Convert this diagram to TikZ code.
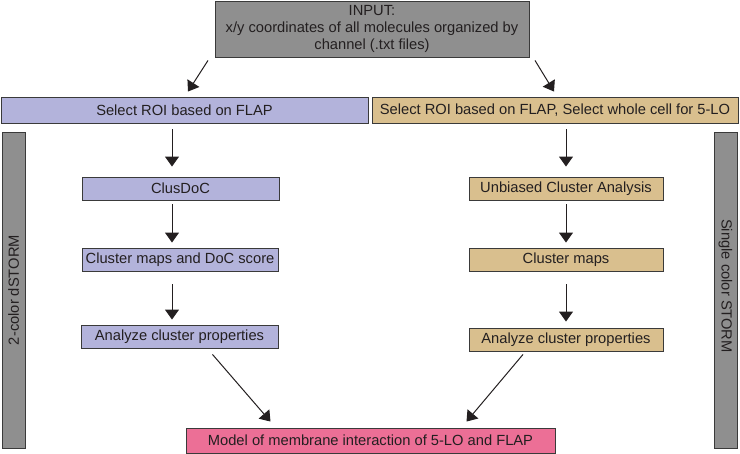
\documentclass[tikz,border=0pt]{standalone}
\usepackage{fontspec}
\setmainfont{Liberation Sans}
\usetikzlibrary{arrows.meta}
\definecolor{boxgray}{HTML}{8F8F8F}
\definecolor{lav}{HTML}{B3B3DB}
\definecolor{tan}{HTML}{D9BF8E}
\definecolor{pink}{HTML}{EC6F96}
\definecolor{edge}{HTML}{3A3A3A}
\definecolor{txt}{HTML}{231F20}
\begin{document}
\begin{tikzpicture}[x=1pt,y=-1pt,
  every node/.style={font=\fontsize{14.7}{17}\selectfont, text=txt, inner sep=0pt, draw=edge, line width=0.9pt},
  graybox/.style={fill=boxgray},
  lavbox/.style={fill=lav},
  tanbox/.style={fill=tan},
  pinkbox/.style={fill=pink},
  arr/.style={-{Triangle[width=14pt,length=10pt]}, line width=1pt, draw=txt}]
\useasboundingbox (0,0) rectangle (740,454);
\node[graybox, minimum width=314pt, minimum height=56pt, align=center] (input) at (372,29)
  {INPUT:\\x/y coordinates of all molecules organized by\\channel (.txt files)};
\node[lavbox, minimum width=367pt, minimum height=26pt] (roil) at (184.5,110) {Select ROI based on FLAP};
\node[tanbox, minimum width=366pt, minimum height=26pt] (roir) at (555,110) {Select ROI based on FLAP, Select whole cell for 5-LO};
\node[graybox, minimum width=23pt, minimum height=316pt] (barl) at (13.5,290) {};
\node[draw=none, rotate=90] (barltxt) at (barl.center) {2-color dSTORM};
\node[graybox, minimum width=23pt, minimum height=316pt] (barr) at (725.5,290) {};
\node[draw=none, rotate=-90] (barrtxt) at ([shift={(0,-4)}]barr.center) {Single color STORM};
\node[lavbox, minimum width=197pt, minimum height=23pt] (clusdoc) at (180.5,188.5) {ClusDoC};
\node[lavbox, minimum width=196pt, minimum height=23pt] (mapsdoc) at (180,259.5) {Cluster maps and DoC score};
\node[lavbox, minimum width=197pt, minimum height=23pt] (anl) at (179.5,336.5) {Analyze cluster properties};
\node[tanbox, minimum width=194pt, minimum height=23pt] (unb) at (566,188.5) {Unbiased Cluster Analysis};
\node[tanbox, minimum width=194pt, minimum height=23pt] (maps) at (566,259.5) {Cluster maps};
\node[tanbox, minimum width=194pt, minimum height=23pt] (anr) at (566,339.5) {Analyze cluster properties};
\node[pinkbox, minimum width=369pt, minimum height=25pt] (model) at (370.5,440.5) {Model of membrane interaction of 5-LO and FLAP};
% connectors
\coordinate (cl) at (172,0);
\coordinate (cr) at (566,0);
\draw[arr] ([shift={(-164,3)}]input.south) -- ([shift={(3.5,-5)}]roil.north);
\draw[arr] ([shift={(163,3)}]input.south) -- ([shift={(-1,-5)}]roir.north);
\draw[arr] ([shift={(0,6)}]roil.south -| cl) -- ([shift={(0,-10)}]clusdoc.north -| cl);
\draw[arr] ([shift={(0,4)}]clusdoc.south -| cl) -- ([shift={(0,-5)}]mapsdoc.north -| cl);
\draw[arr] ([shift={(0,13)}]mapsdoc.south -| cl) -- ([shift={(0,-5)}]anl.north -| cl);
\draw[arr] ([shift={(0,6)}]roir.south -| cr) -- ([shift={(0,-10)}]unb.north -| cr);
\draw[arr] ([shift={(0,4)}]unb.south -| cr) -- ([shift={(0,-5)}]maps.north -| cr);
\draw[arr] ([shift={(0,13)}]maps.south -| cr) -- ([shift={(0,-6)}]anr.north -| cr);
\draw[arr] ([shift={(33,6)}]anl.south) -- ([shift={(-100,-6)}]model.north);
\draw[arr] ([shift={(-43,3)}]anr.south) -- ([shift={(96,-6)}]model.north);
\end{tikzpicture}
\end{document}
